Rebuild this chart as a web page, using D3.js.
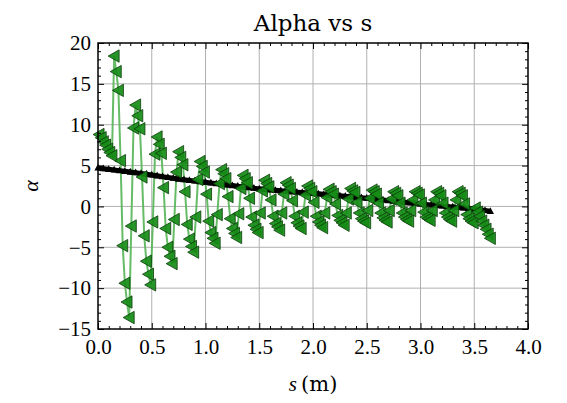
<!DOCTYPE html>
<html><head><meta charset="utf-8">
<script src="https://cdn.jsdelivr.net/npm/d3@7"></script>
<style>body{margin:0;background:#fff}</style>
</head><body>
<svg id="c" width="567" height="403"></svg>
<script>
const title = "Alpha vs s";
const xTicks = [0,0.5,1.0,1.5,2.0,2.5,3.0,3.5,4.0];
const yTicks = [-15,-10,-5,0,5,10,15,20];

// black series
const blackS = [0.00,0.05,0.10,0.15,0.20,0.25,0.30,0.35,0.40,0.45,0.50,0.55,0.60,0.65,0.70,0.75,0.80,0.85,0.90,0.95,
1.00,1.05,1.10,1.15,1.20,1.25,1.30,1.35,1.40,1.45,1.50,1.55,1.60,1.65,1.70,1.75,1.80,1.85,1.90,1.95,
2.00,2.05,2.10,2.15,2.20,2.25,2.30,2.35,2.40,2.45,2.50,2.55,2.60,2.65,2.70,2.75,2.80,2.85,2.90,2.95,
3.00,3.05,3.10,3.15,3.20,3.25,3.30,3.35,3.40,3.45,3.50,3.55,3.60,3.65];
const blackAlpha = [4.70,4.62,4.54,4.46,4.38,4.30,4.21,4.12,4.03,3.94,3.85,3.75,3.65,3.55,3.45,3.35,3.27,3.19,3.11,3.03,
2.95,2.87,2.79,2.71,2.63,2.55,2.47,2.39,2.31,2.23,2.15,2.09,2.03,1.97,1.91,1.85,1.80,1.75,1.70,1.65,
1.60,1.54,1.48,1.42,1.36,1.30,1.24,1.18,1.12,1.06,1.00,0.93,0.86,0.79,0.72,0.65,0.58,0.51,0.44,0.37,
0.30,0.24,0.18,0.12,0.06,0.00,-0.06,-0.12,-0.18,-0.24,-0.30,-0.40,-0.50,-0.60];

// green series
const greenS = [0.01,0.03,0.05,0.07,0.09,0.11,0.13,
0.15,0.17,0.19,0.21,0.23,0.25,0.27,0.29,0.31,0.33,
0.35,0.37,0.39,0.41,0.43,0.45,0.47,0.49,0.51,0.53,
0.55,0.57,0.59,0.61,0.63,0.65,0.67,0.69,0.71,0.73,
0.75,0.77,0.79,0.81,0.83,0.85,0.87,0.89,0.91,0.93,
0.95,0.97,0.99,1.01,1.03,1.05,1.07,1.09,1.11,1.13,
1.15,1.17,1.19,1.21,1.23,1.25,1.27,1.29,1.31,1.33,
1.35,1.37,1.39,1.41,1.43,1.45,1.47,1.49,1.51,1.53,
1.55,1.57,1.59,1.61,1.63,1.65,1.67,1.69,1.71,1.73,
1.75,1.77,1.79,1.81,1.83,1.85,1.87,1.89,1.91,1.93,
1.95,1.97,1.99,2.01,2.03,2.05,2.07,2.09,2.11,2.13,
2.15,2.17,2.19,2.21,2.23,2.25,2.27,2.29,2.31,2.33,
2.35,2.37,2.39,2.41,2.43,2.45,2.47,2.49,2.51,2.53,
2.55,2.57,2.59,2.61,2.63,2.65,2.67,2.69,2.71,2.73,
2.75,2.77,2.79,2.81,2.83,2.85,2.87,2.89,2.91,2.93,
2.95,2.97,2.99,3.01,3.03,3.05,3.07,3.09,3.11,3.13,
3.15,3.17,3.19,3.21,3.23,3.25,3.27,3.29,3.31,3.33,
3.35,3.37,3.39,3.41,3.43,3.45,3.47,3.49,
3.51,3.53,3.55,3.57,3.59,3.61,3.63,3.65];
const greenAlpha = [8.8,8.4,7.9,7.5,7.0,6.6,6.2,
18.4,16.5,14.2,5.6,-4.8,-9.4,-11.7,-13.6,-2.4,9.6,
12.4,11.1,9.5,3.6,-3.6,-6.7,-8.3,-9.6,-1.9,6.4,
8.5,7.6,6.5,2.3,-2.7,-5.0,-6.1,-7.0,-1.6,4.2,
6.7,6.0,5.1,1.8,-2.2,-4.0,-4.9,-5.6,-1.3,3.3,
5.5,4.9,4.2,1.5,-1.8,-3.2,-3.9,-4.5,-1.0,2.8,
4.5,4.0,3.4,1.2,-1.5,-2.7,-3.3,-3.8,-0.9,2.2,
3.8,3.4,2.9,1.0,-1.3,-2.3,-2.8,-3.2,-0.8,1.9,
3.2,2.8,2.4,0.8,-1.2,-2.1,-2.5,-2.9,-0.8,1.5,
2.9,2.6,2.2,0.7,-1.2,-2.0,-2.4,-2.7,-0.7,1.4,
2.5,2.2,1.8,0.5,-1.2,-1.9,-2.3,-2.6,-0.8,1.1,
2.1,1.8,1.5,0.3,-1.1,-1.7,-2.0,-2.3,-0.8,0.9,
2.2,1.9,1.7,0.5,-0.8,-1.5,-1.8,-2.0,-0.5,1.0,
2.0,1.8,1.5,0.4,-0.8,-1.4,-1.7,-1.9,-0.5,0.9,
1.8,1.6,1.3,0.4,-0.8,-1.3,-1.6,-1.8,-0.5,0.8,
1.8,1.6,1.4,0.4,-0.7,-1.3,-1.5,-1.7,-0.5,0.8,
1.8,1.6,1.3,0.4,-0.8,-1.3,-1.6,-1.8,-0.5,0.8,
1.8,1.6,1.3,0.3,-1.0,-1.5,-1.8,-2.0,
-0.2,-0.7,-1.2,-1.8,-2.3,-2.8,-3.4,-3.9];

const W = 567, H = 403;
const M = {left: 98, right: 528, top: 43, bottom: 329};
const FONT = "'Liberation Serif','Times New Roman',Times,serif";
const FONT2 = "'DejaVu Serif',serif";

const svg = d3.select("#c");
const x = d3.scaleLinear().domain([0, 4]).range([M.left, M.right]);
const y = d3.scaleLinear().domain([-15, 20]).range([M.bottom, M.top]);

const blackData = blackS.map((s, i) => ({s, a: blackAlpha[i]}));
const greenData = greenS.map((s, i) => ({s, a: greenAlpha[i]}));

// grid
const grid = svg.append("g");
grid.selectAll(".gx").data(xTicks.slice(1, -1)).enter().append("line")
  .attr("x1", d => x(d)).attr("x2", d => x(d)).attr("y1", M.top).attr("y2", M.bottom)
  .attr("stroke", "#b0b0b0").attr("stroke-width", 1);
grid.selectAll(".gy").data(yTicks.slice(1, -1)).enter().append("line")
  .attr("y1", d => y(d)).attr("y2", d => y(d)).attr("x1", M.left).attr("x2", M.right)
  .attr("stroke", "#b0b0b0").attr("stroke-width", 1);

// green line
const line = d3.line().x(d => x(d.s)).y(d => y(d.a));
svg.append("path").datum(greenData).attr("d", line)
  .attr("fill", "none").attr("stroke", "#55b555").attr("stroke-width", 2).attr("stroke-opacity", 0.9);

// black series
svg.append("path").datum(blackData).attr("d", line)
  .attr("fill", "none").attr("stroke", "#000").attr("stroke-width", 5);
svg.append("g").selectAll("path").data(blackData).enter().append("path")
  .attr("transform", d => `translate(${x(d.s)},${y(d.a)})`)
  .attr("d", "M0,-4.2L3.6,2.6L-3.6,2.6Z").attr("fill", "#000");

// green markers (left-pointing triangles)
svg.append("g").selectAll("path").data(greenData).enter().append("path")
  .attr("transform", d => `translate(${x(d.s)},${y(d.a)})`)
  .attr("d", "M-6,0L5,-6.2L5,6.2Z")
  .attr("fill", "#168c16").attr("fill-opacity", 0.92)
  .attr("stroke", "#0b3d0b").attr("stroke-width", 0.8);

// axes
function styleAxis(g) {
  g.select(".domain").remove();
  g.selectAll("line").attr("stroke", "#000").attr("stroke-width", 1);
  g.selectAll("text").attr("font-family", FONT).attr("font-size", 21).attr("fill", "#000");
}
const fmtX = d3.format(".1f");
const xMinor = [0.1,0.2,0.3,0.4,0.6,0.7,0.8,0.9,1.1,1.2,1.3,1.4,1.6,1.7,1.8,1.9,2.1,2.2,2.3,2.4,2.6,2.7,2.8,2.9,3.1,3.2,3.3,3.4,3.6,3.7,3.8,3.9];
const yMinor = [-14,-13,-12,-11,-9,-8,-7,-6,-4,-3,-2,-1,1,2,3,4,6,7,8,9,11,12,13,14,16,17,18,19];
svg.append("g").attr("transform", `translate(0,${M.bottom})`)
  .call(d3.axisBottom(x).tickValues(xTicks).tickFormat(fmtX).tickSizeInner(-6).tickSizeOuter(0).tickPadding(10))
  .call(styleAxis);
svg.append("g").attr("transform", `translate(0,${M.bottom})`)
  .call(d3.axisBottom(x).tickValues(xMinor).tickFormat("").tickSizeInner(-3).tickSizeOuter(0))
  .call(styleAxis);
svg.append("g").attr("transform", `translate(0,${M.top})`)
  .call(d3.axisTop(x).tickValues(xTicks).tickFormat("").tickSizeInner(-6).tickSizeOuter(0))
  .call(styleAxis);
svg.append("g").attr("transform", `translate(0,${M.top})`)
  .call(d3.axisTop(x).tickValues(xMinor).tickFormat("").tickSizeInner(-3).tickSizeOuter(0))
  .call(styleAxis);
svg.append("g").attr("transform", `translate(${M.left},0)`)
  .call(d3.axisLeft(y).tickValues(yTicks).tickSizeInner(-6).tickSizeOuter(0).tickPadding(7))
  .call(styleAxis);
svg.append("g").attr("transform", `translate(${M.left},0)`)
  .call(d3.axisLeft(y).tickValues(yMinor).tickFormat("").tickSizeInner(-3).tickSizeOuter(0))
  .call(styleAxis);
svg.append("g").attr("transform", `translate(${M.right},0)`)
  .call(d3.axisRight(y).tickValues(yTicks).tickFormat("").tickSizeInner(-6).tickSizeOuter(0))
  .call(styleAxis);
svg.append("g").attr("transform", `translate(${M.right},0)`)
  .call(d3.axisRight(y).tickValues(yMinor).tickFormat("").tickSizeInner(-3).tickSizeOuter(0))
  .call(styleAxis);

// frame
svg.append("rect").attr("x", M.left).attr("y", M.top)
  .attr("width", M.right - M.left).attr("height", M.bottom - M.top)
  .attr("fill", "none").attr("stroke", "#000").attr("stroke-width", 1.5);

// title
svg.append("text").attr("x", (M.left + M.right) / 2).attr("y", 31)
  .attr("text-anchor", "middle").attr("font-family", FONT2).attr("font-size", 23)
  .text(title);

// x label
const xl = svg.append("text").attr("x", (M.left + M.right) / 2).attr("y", 391)
  .attr("text-anchor", "middle").attr("font-size", 21);
xl.append("tspan").attr("font-family", FONT).attr("font-style", "italic").text("s");
xl.append("tspan").attr("font-family", FONT2).text("\u2009(m)");

// y label
svg.append("text").attr("transform", `translate(38,${(M.top + M.bottom) / 2}) rotate(-90)`)
  .attr("text-anchor", "middle").attr("font-family", FONT).attr("font-size", 22)
  .attr("font-style", "italic").text("α");
</script>
</body></html>
